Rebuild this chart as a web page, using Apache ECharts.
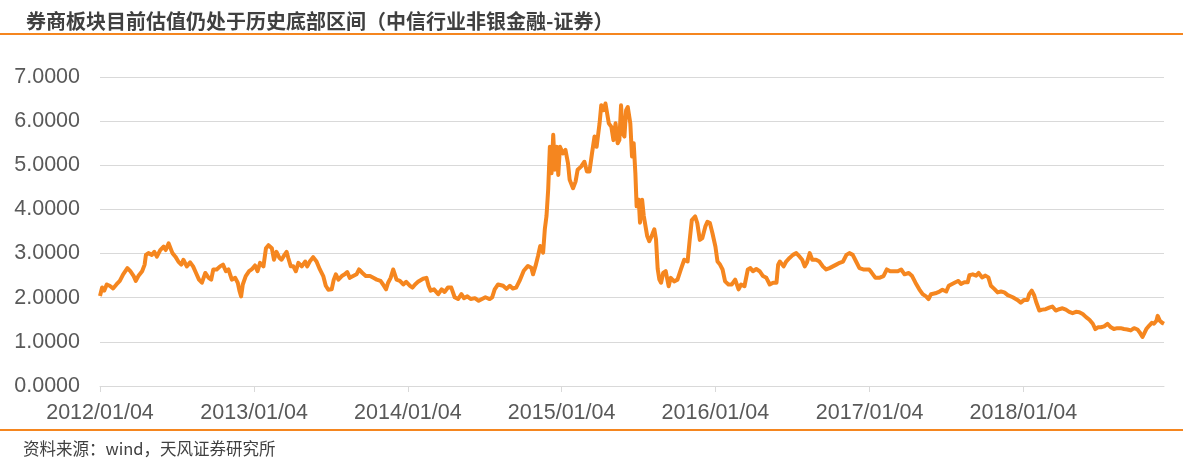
<!DOCTYPE html>
<html><head><meta charset="utf-8">
<script src="https://cdn.jsdelivr.net/npm/echarts@6/dist/echarts.min.js"></script>
<style>html,body{margin:0;padding:0;background:#fff}#c{width:1183px;height:464px}</style>
</head><body><div id="c"></div>
<script>
const chartTitle = '券商板块目前估值仍处于历史底部区间（中信行业非银金融-证券）';
const sourceNote = '资料来源：wind，天风证券研究所';
const yMin = 0, yMax = 7, yStep = 1;
const xTickDates = ['2012-01-04','2013-01-04','2014-01-04','2015-01-04','2016-01-04','2017-01-04','2018-01-04'];
const xTickLabels = ['2012/01/04','2013/01/04','2014/01/04','2015/01/04','2016/01/04','2017/01/04','2018/01/04'];

const d2012 = ['01-04','01-09','01-14','01-20','01-27','02-04','02-12','02-20','02-28','03-09','03-16','03-24','03-29','04-04','04-13','04-19','04-22','04-28','05-06','05-12','05-18','05-26','06-03','06-08','06-15','06-19','06-24','07-01','07-08','07-15','07-20','07-28','08-05','08-12','08-19','08-26','09-02','09-10','09-18','09-24','09-29','10-07','10-15','10-22','10-29','11-04','11-12','11-20','11-26','11-30','12-04','12-08','12-15','12-23','12-29'];
const v2012 = [2.04,2.23,2.16,2.30,2.27,2.21,2.30,2.38,2.53,2.67,2.60,2.49,2.38,2.49,2.60,2.75,2.97,3.01,2.97,3.04,2.93,3.08,3.16,3.08,3.23,3.24,3.01,2.93,2.82,2.75,2.86,2.71,2.80,2.71,2.56,2.41,2.34,2.56,2.45,2.41,2.64,2.64,2.71,2.75,2.60,2.64,2.41,2.45,2.34,2.16,2.03,2.30,2.49,2.60,2.64];

const d2013 = ['01-06','01-12','01-18','01-26','02-01','02-07','02-15','02-20','02-26','03-05','03-10','03-17','03-22','03-26','04-01','04-07','04-13','04-19','04-27','05-05','05-10','05-16','05-24','06-01','06-09','06-17','06-23','06-29','07-07','07-12','07-17','07-23','07-31','08-07','08-13','08-19','08-27','09-04','09-10','09-18','09-26','10-06','10-14','10-22','10-31','11-06','11-13','11-18','11-24','11-30','12-04','12-08','12-16','12-24','12-31'];
const v2013 = [2.73,2.60,2.79,2.71,3.12,3.19,3.12,2.86,3.04,2.90,2.86,2.97,3.04,2.90,2.71,2.71,2.60,2.79,2.71,2.82,2.71,2.82,2.92,2.82,2.64,2.49,2.27,2.18,2.19,2.41,2.53,2.41,2.49,2.53,2.58,2.45,2.49,2.53,2.64,2.56,2.49,2.49,2.45,2.41,2.38,2.30,2.19,2.34,2.45,2.64,2.67,2.41,2.38,2.30,2.36];

const d2014 = ['01-09','01-15','01-21','01-28','02-09','02-17','02-22','02-27','03-07','03-17','03-25','04-01','04-09','04-17','04-25','05-03','05-11','05-17','05-25','06-02','06-12','06-21','06-29','07-07','07-17','07-23','07-29','08-06','08-10','08-18','08-26','09-03','09-10','09-18','09-26','10-06','10-16','10-24','10-28','11-03','11-09','11-14','11-21','11-25','11-29','12-03','12-07','12-11','12-15','12-19','12-23','12-27','12-31'];
const v2014 = [2.27,2.23,2.30,2.36,2.43,2.45,2.27,2.16,2.19,2.08,2.19,2.13,2.23,2.23,2.01,1.97,2.08,1.99,2.03,1.97,1.99,1.93,1.97,2.01,1.97,2.01,2.19,2.30,2.27,2.27,2.20,2.27,2.21,2.23,2.38,2.61,2.72,2.68,2.53,2.72,2.95,3.17,3.02,3.55,3.85,4.45,5.42,4.82,5.69,4.90,5.42,4.78,5.42];

const d2015 = ['01-07','01-13','01-19','01-23','01-31','02-06','02-11','02-19','02-27','03-05','03-11','03-17','03-23','03-28','04-04','04-08','04-13','04-18','04-21','04-26','05-02','05-07','05-12','05-17','05-21','05-25','05-29','06-02','06-06','06-10','06-16','06-20','06-24','06-28','07-01','07-06','07-09','07-14','07-18','07-22','07-26','07-31','08-07','08-12','08-16','08-20','08-24','08-28','09-02','09-08','09-15','09-20','09-28','10-06','10-14','10-22','10-30','11-04','11-09','11-17','11-22','11-28','12-04','12-11','12-16','12-22','12-28'];
const v2015 = [5.27,5.35,5.05,4.67,4.48,4.63,4.90,4.97,5.08,4.86,4.86,5.27,5.65,5.42,5.95,6.36,6.25,6.40,6.44,5.95,5.87,5.57,5.95,5.50,5.57,6.36,5.72,5.65,6.25,6.32,5.95,5.20,5.50,4.82,4.07,4.22,3.70,4.22,3.85,3.88,3.40,3.28,3.43,3.55,3.32,2.65,2.41,2.34,2.56,2.60,2.26,2.45,2.37,2.41,2.64,2.86,2.82,3.31,3.76,3.84,3.69,3.31,3.35,3.61,3.72,3.69,3.46];

const d2016 = ['01-04','01-09','01-15','01-21','01-27','02-04','02-12','02-20','02-24','02-28','03-05','03-13','03-21','03-27','04-02','04-10','04-18','04-26','05-04','05-12','05-20','05-28','06-01','06-05','06-14','06-20','06-28','07-06','07-14','07-22','07-28','08-03','08-08','08-15','08-21','08-30','09-07','09-15','09-23','10-01','10-09','10-17','10-25','11-02','11-10','11-17','11-25','12-03','12-11','12-20'];
const v2016 = [3.16,2.82,2.75,2.64,2.37,2.30,2.30,2.41,2.45,2.19,2.30,2.26,2.64,2.67,2.60,2.65,2.60,2.49,2.45,2.30,2.34,2.34,2.75,2.82,2.71,2.82,2.90,2.97,3.01,2.93,2.86,2.71,2.79,3.01,2.86,2.86,2.82,2.71,2.64,2.67,2.71,2.75,2.79,2.82,2.97,3.01,2.97,2.82,2.67,2.64];

const d2017 = ['01-03','01-08','01-18','01-27','02-06','02-14','02-22','03-04','03-12','03-20','03-28','04-07','04-15','04-23','05-02','05-10','05-18','05-24','05-30','06-09','06-19','06-26','07-05','07-11','07-19','07-27','08-03','08-09','08-17','08-25','08-29','09-06','09-14','09-20','09-28','10-06','10-13','10-19','10-27','11-04','11-12','11-20','11-28','12-10','12-21','12-29'];
const v2017 = [2.64,2.58,2.45,2.45,2.49,2.64,2.60,2.60,2.60,2.64,2.53,2.56,2.49,2.34,2.19,2.08,2.03,1.97,2.08,2.10,2.14,2.18,2.14,2.27,2.31,2.35,2.38,2.31,2.35,2.35,2.51,2.53,2.50,2.56,2.46,2.50,2.46,2.27,2.20,2.12,2.14,2.12,2.06,2.01,1.95,1.89];

const d2018 = ['01-06','01-14','01-18','01-24','01-30','02-04','02-11','02-18','02-26','03-08','03-14','03-22','03-30','04-07','04-15','04-23','05-01','05-09','05-17','05-25','06-02','06-10','06-18','06-24','06-30','07-07','07-15','07-23','07-31','08-07','08-15','08-23','08-31','09-08','09-16','09-24','10-02','10-07','10-14','10-18','10-23','10-30','11-05','11-10','11-16','11-19','11-24','11-30','12-04'];
const v2018 = [1.95,1.95,2.08,2.16,2.05,1.89,1.71,1.73,1.74,1.78,1.80,1.71,1.74,1.76,1.73,1.68,1.65,1.68,1.67,1.63,1.56,1.50,1.41,1.29,1.33,1.33,1.35,1.41,1.33,1.29,1.31,1.31,1.29,1.28,1.26,1.31,1.28,1.22,1.11,1.13,1.29,1.37,1.43,1.41,1.48,1.59,1.48,1.43,1.41];

const years = [[2012,d2012,v2012],[2013,d2013,v2013],[2014,d2014,v2014],[2015,d2015,v2015],[2016,d2016,v2016],[2017,d2017,v2017],[2018,d2018,v2018]];
const seriesData = [];
years.forEach(([y, ds, vs]) => ds.forEach((d, i) => seriesData.push([Date.parse(y + '-' + d), vs[i]])));
const xTicks = xTickDates.map(d => Date.parse(d));

const ORANGE = '#F5861F';
const chart = echarts.init(document.getElementById('c'), null, {renderer: 'canvas'});
chart.setOption({
  backgroundColor: '#ffffff',
  animation: false,
  title: [
    {text: chartTitle, left: 21, top: 6, textStyle: {fontFamily: 'Noto Sans CJK SC', fontSize: 20, fontWeight: 'bold', color: '#404040'}},
    {text: sourceNote, left: 18, top: 435, textStyle: {fontFamily: 'Noto Sans CJK SC', fontSize: 16.5, fontWeight: 'normal', color: '#404040'}}
  ],
  graphic: [
    {type: 'rect', left: 0, top: 33, shape: {width: 1183, height: 2}, style: {fill: ORANGE}, silent: true},
    {type: 'rect', left: 0, top: 429, shape: {width: 1183, height: 2}, style: {fill: ORANGE}, silent: true}
  ],
  grid: {left: 100, right: 19, top: 77, bottom: 78, containLabel: false},
  xAxis: {
    type: 'value',
    min: xTicks[0],
    max: seriesData[seriesData.length - 1][0],
    axisLine: {show: true, lineStyle: {color: '#D9D9D9', width: 1}},
    axisTick: {show: true, customValues: xTicks, length: 6, lineStyle: {color: '#D9D9D9', width: 1}},
    axisLabel: {customValues: xTicks, formatter: v => xTickLabels[xTicks.indexOf(v)], margin: 16, fontFamily: 'Liberation Sans', fontSize: 21.5, color: '#595959'},
    splitLine: {show: false}
  },
  yAxis: {
    type: 'value', min: yMin, max: yMax, interval: yStep,
    axisLine: {show: false}, axisTick: {show: false},
    axisLabel: {formatter: v => v.toFixed(4), margin: 20, fontFamily: 'Liberation Sans', fontSize: 21.5, color: '#595959'},
    splitLine: {lineStyle: {color: '#D9D9D9', width: 1}}
  },
  series: [{
    type: 'line', data: seriesData, showSymbol: false, symbol: 'none',
    lineStyle: {color: ORANGE, width: 4, join: 'round'}
  }]
});
</script></body></html>
